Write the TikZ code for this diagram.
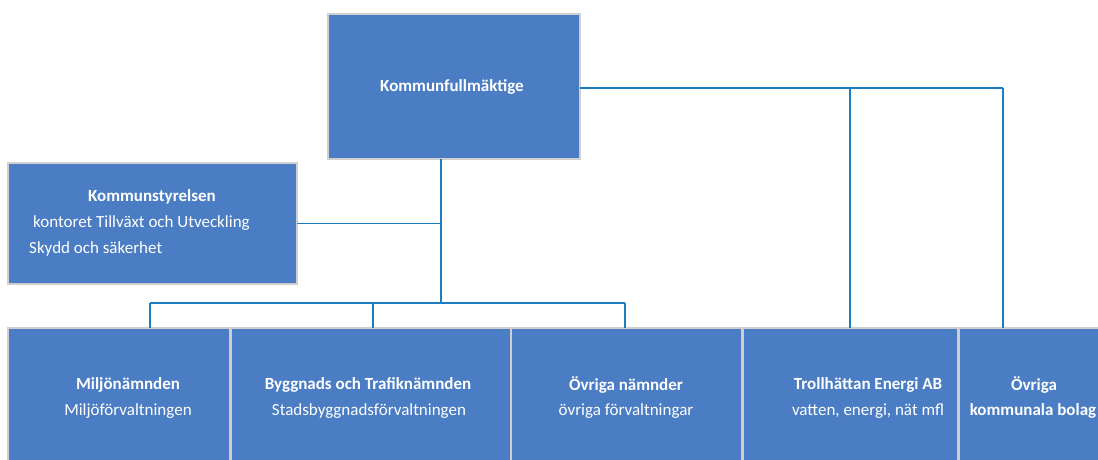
\documentclass[tikz,border=0pt]{standalone}
\usepackage{fontspec}
\setmainfont{Carlito}
\definecolor{boxblue}{HTML}{4A7DC3}
\definecolor{linkblue}{HTML}{1B7CC1}
\definecolor{edgegray}{HTML}{CFCFCF}
\begin{document}
\begin{tikzpicture}[x=1pt,y=-1pt,
  org/.style={draw=edgegray, line width=1.6pt, fill=boxblue, rectangle, inner sep=0pt, outer sep=0pt, anchor=north west},
  link/.style={draw=linkblue, line width=1.2pt},
  ttl/.style={text=white, font=\bfseries\fontsize{17}{20}\selectfont, inner sep=0pt},
  sub/.style={text=white, font=\fontsize{17}{20}\selectfont, inner sep=0pt}]
\useasboundingbox (0,0) rectangle (1098,459);
\clip (0,0) rectangle (1098,459);
\fill[white] (0,0) rectangle (1098,459);

% boxes
\node[org, minimum width=252pt, minimum height=145pt] (kf) at (328,14) {};
\node[org, minimum width=289pt, minimum height=121pt] (ks) at (8,163) {};
\node[org, minimum width=222pt, minimum height=145pt] (mil) at (8,328) {};
\node[org, minimum width=280pt, minimum height=145pt] (byg) at (231,328) {};
\node[org, minimum width=231pt, minimum height=145pt] (ovn) at (511,328) {};
\node[org, minimum width=215pt, minimum height=145pt] (tro) at (743,328) {};
\node[org, minimum width=160pt, minimum height=145pt] (ovk) at (959,328) {};

% texts
\node[ttl] (kft) at (452,87) {Kommunfullmäktige};
\node[ttl] (kst) at (152,197) {Kommunstyrelsen};
\node[sub, anchor=west] (ks1) at (33,223) {kontoret Tillväxt och Utveckling};
\node[sub, anchor=west] (ks2) at (29,249) {Skydd och säkerhet};
\node[ttl] (milt) at (128,385) {Miljönämnden};
\node[sub] (mils) at (128,411) {Miljöförvaltningen};
\node[ttl] (bygt) at (368,385) {Byggnads och Trafiknämnden};
\node[sub] (bygs) at (369,411) {Stadsbyggnadsförvaltningen};
\node[ttl] (ovnt) at (626,385) {Övriga nämnder};
\node[sub] (ovns) at (626,411) {övriga förvaltningar};
\node[ttl] (trot) at (868,385) {Trollhättan Energi AB};
\node[sub] (tros) at (868,411) {vatten, energi, nät mfl};
\node[ttl] (ovkt) at (1034,385) {Övriga};
\node[ttl] (ovks) at (1033,411) {kommunala bolag};

% connectors
\coordinate (kfd) at ([xshift=113pt]kf.south west);
\coordinate (b0) at (441,303);
\coordinate (b1) at (150,303);
\coordinate (b2) at (373,303);
\coordinate (b3) at (625,303);
\coordinate (t1) at (850,88);
\coordinate (t2) at (1003,88);
\draw[link] (kfd) -- (b0);
\draw[link] (ks.east) -- (ks.east -| kfd);
\draw[link] (b1) -- (b3);
\draw[link] (b1) -- (b1 |- mil.north);
\draw[link] (b2) -- (b2 |- byg.north);
\draw[link] (b3) -- (b3 |- ovn.north);
\draw[link] (kf.east |- t1) -- (t2);
\draw[link] (t1) -- (t1 |- tro.north);
\draw[link] (t2) -- (t2 |- ovk.north);
\end{tikzpicture}
\end{document}
